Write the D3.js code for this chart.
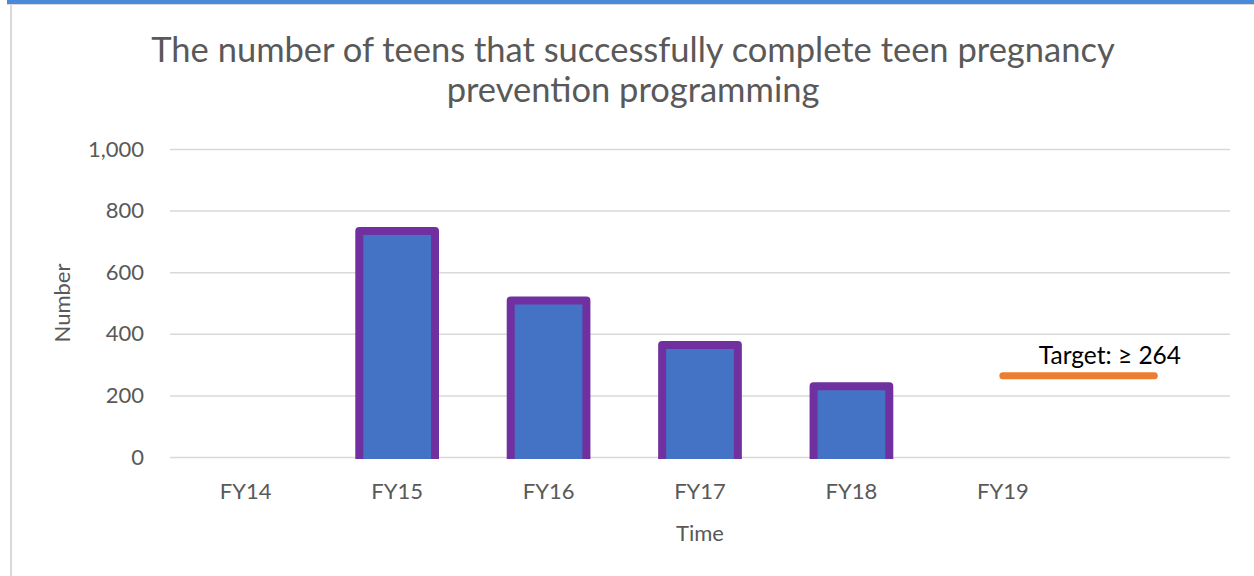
<!DOCTYPE html>
<html>
<head>
<meta charset="utf-8">
<script src="https://cdn.jsdelivr.net/npm/d3@7"></script>
<style>
  body { margin: 0; background: #fff; }
  text { font-family: Lato, "Open Sans", sans-serif; }
</style>
</head>
<body>
<script>
// data
const categories = ['FY14', 'FY15', 'FY16', 'FY17', 'FY18', 'FY19', ''];
const completed = [null, 734, 508, 364, 230, null, null];
const target = [null, null, null, null, null, 264, 264];
const yTicks = [0, 200, 400, 600, 800, 1000];
const titleLines = ['The number of teens that successfully complete teen pregnancy', 'prevention programming'];

const W = 1254, H = 576;
const margin = {left: 170, right: 24, top: 149, bottom: 119};
const innerW = W - margin.left - margin.right;
const innerH = H - margin.top - margin.bottom;

const svg = d3.select('body').append('svg')
  .attr('width', W)
  .attr('height', H);

// frame: blue top strip + light left border
svg.append('rect').attr('x', 7).attr('y', 0).attr('width', W - 7).attr('height', 4).attr('fill', '#4a88d9');
svg.append('rect').attr('x', 7).attr('y', 4).attr('width', W - 7).attr('height', 1).attr('fill', '#d9d9d9');
svg.append('rect').attr('x', 10).attr('y', 4).attr('width', 2).attr('height', H - 4).attr('fill', '#d9d9d9');

const g = svg.append('g').attr('transform', `translate(${margin.left},${margin.top})`);

const x = d3.scaleBand().domain(categories.map((c, i) => i)).range([0, innerW]).padding(0);
const y = d3.scaleLinear().domain([0, 1000]).range([innerH, 0]);
const step = x.step();

// gridlines + y labels
const yAxis = g.append('g')
  .call(d3.axisLeft(y).tickValues(yTicks).tickSize(-innerW).tickPadding(26).tickFormat(d3.format(',')));
yAxis.select('.domain').remove();
yAxis.selectAll('line').attr('stroke', '#d9d9d9').attr('stroke-width', 1.5);
yAxis.selectAll('text').attr('fill', '#595959').style('font-size', '22px');

// x labels
const xAxis = g.append('g')
  .attr('transform', `translate(0,${innerH})`)
  .call(d3.axisBottom(x).tickSize(0).tickPadding(26).tickFormat(i => categories[i]));
xAxis.select('.domain').remove();
xAxis.selectAll('text').attr('fill', '#595959').style('font-size', '22px');

// bars, clipped just below the baseline
g.append('clipPath').attr('id', 'plotclip')
  .append('rect').attr('x', -10).attr('y', -20).attr('width', innerW + 20).attr('height', innerH + 2 + 20);

g.append('g').attr('clip-path', 'url(#plotclip)')
  .selectAll('rect')
  .data(completed.map((v, i) => ({i, v})).filter(d => d.v != null))
  .enter()
  .append('rect')
  .attr('x', d => x(d.i) + step * 0.25)
  .attr('y', d => y(d.v))
  .attr('width', step * 0.5)
  .attr('height', d => innerH - y(d.v) + 10)
  .attr('fill', '#4472c4')
  .attr('stroke', '#7030a0')
  .attr('stroke-width', 8)
  .attr('stroke-linejoin', 'round');

// target line
const line = d3.line()
  .defined(d => d != null)
  .x((d, i) => x(i) + step / 2)
  .y(d => y(d));
g.append('path')
  .datum(target)
  .attr('d', line)
  .attr('fill', 'none')
  .attr('stroke', '#ed7d31')
  .attr('stroke-width', 7)
  .attr('stroke-linecap', 'round');

g.append('text')
  .attr('x', x(5) + step / 2 + 36)
  .attr('y', y(264) - 12)
  .attr('fill', '#000')
  .style('font-size', '24.5px')
  .text('Target: \u2265 264');

// title
svg.append('g').selectAll('text')
  .data(titleLines).enter()
  .append('text')
  .attr('x', 633)
  .attr('y', (d, i) => 62 + i * 40)
  .attr('text-anchor', 'middle')
  .attr('fill', '#595959')
  .style('font-size', '34.5px')
  .text(d => d);

// axis titles
svg.append('text')
  .attr('transform', `translate(70,${margin.top + innerH / 2}) rotate(-90)`)
  .attr('text-anchor', 'middle')
  .attr('fill', '#595959')
  .style('font-size', '22px')
  .text('Number');

svg.append('text')
  .attr('x', margin.left + innerW / 2)
  .attr('y', 541)
  .attr('text-anchor', 'middle')
  .attr('fill', '#595959')
  .style('font-size', '22px')
  .text('Time');
</script>
</body>
</html>
